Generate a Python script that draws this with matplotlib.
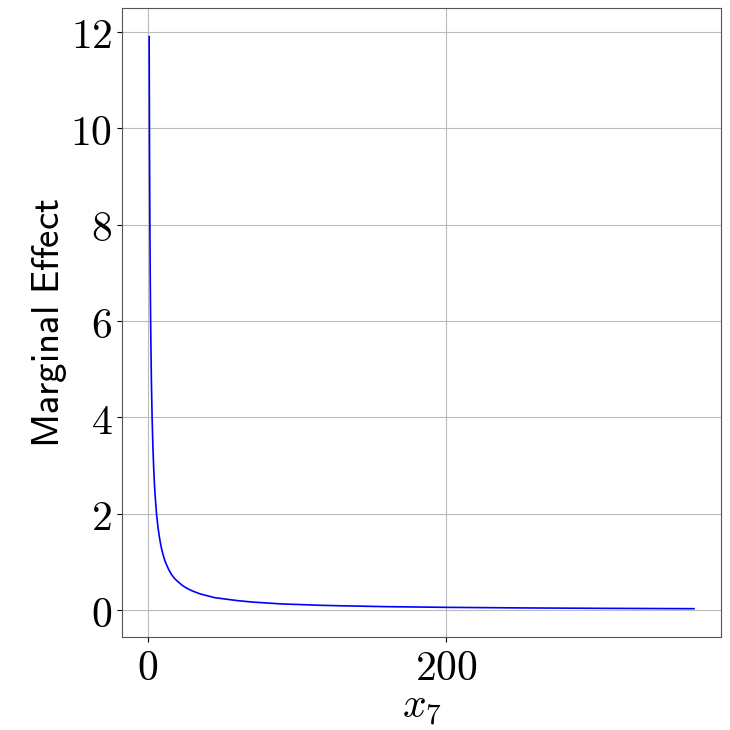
import matplotlib
matplotlib.use('Agg')
import matplotlib.pyplot as plt

# points
x7 = [1, 1.25, 1.5, 1.75, 2, 2.5, 3, 3.5, 4, 4.5, 5, 6, 7, 8, 9, 10, 11, 12,
      14, 16, 18, 20, 23, 26, 30, 35, 40, 45, 50, 60, 70, 80, 90, 100, 115,
      130, 160, 200, 250, 300, 366]
effect = [11.9, 9.52, 7.93, 6.8, 5.95, 4.76, 3.97, 3.4, 2.98, 2.64, 2.38,
          1.98, 1.7, 1.49, 1.32, 1.19, 1.08, 0.99, 0.85, 0.74, 0.66, 0.6,
          0.52, 0.46, 0.4, 0.34, 0.3, 0.26, 0.24, 0.2, 0.17, 0.15, 0.13,
          0.12, 0.103, 0.092, 0.074, 0.06, 0.048, 0.04, 0.032]
xticks = [0, 200]
yticks = [0, 2, 4, 6, 8, 10, 12]

plt.rcParams['mathtext.fontset'] = 'cm'

fig = plt.figure(figsize=(7.3, 7.3), dpi=100)
ax = fig.add_axes([0.167, 0.127, 0.821, 0.862])
ax.plot(x7, effect, color='blue', linewidth=1.2)

ax.set_xticks(xticks)
ax.set_xticklabels([f'${t}$' for t in xticks], fontsize=30)
ax.set_yticks(yticks)
ax.set_yticklabels([f'${t}$' for t in yticks], fontsize=30)
ax.grid(True, color='#bbbbbb', linewidth=0.8)
for s in ax.spines.values():
    s.set_color('#555555')

ax.set_xlabel(r'$x_7$', fontsize=30, labelpad=-2)
ax.set_ylabel(r'$\mathsf{Marginal\ Effect}$', fontsize=28, labelpad=1)

fig.savefig('out.png', dpi=100)
